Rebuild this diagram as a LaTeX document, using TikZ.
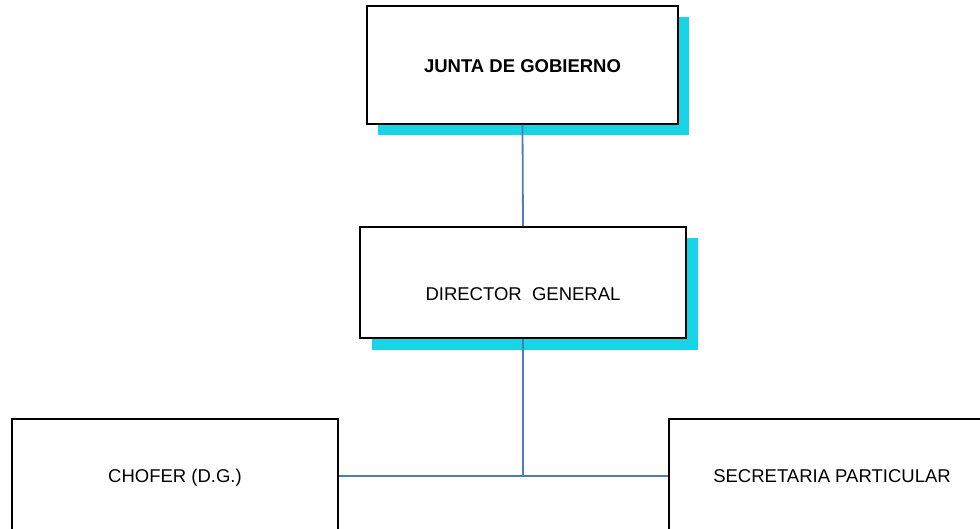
\documentclass[tikz,border=0pt]{standalone}
\usepackage{fontspec}
\setmainfont{Liberation Sans}
\usetikzlibrary{shadows}
\definecolor{shadecyan}{HTML}{17D4E6}
\definecolor{linkblue}{HTML}{4A7EBB}
\tikzset{
  unit/.style={draw=black, line width=1.5pt, fill=white, inner sep=0pt,
    text height=17pt, text depth=4pt,
    font=\fontsize{18.5}{22}\selectfont},
  shadowed/.style={drop shadow={shadow xshift=#1, shadow yshift=-11.5pt,
    fill=shadecyan, opacity=1}},
  link/.style={draw=linkblue, line width=1.8pt}
}

\begin{document}
\begin{tikzpicture}[x=1pt,y=-1pt]
		%%%%% START %%%%%
		\useasboundingbox (0,0) rectangle (980,529);
		\clip (0,0) rectangle (980,529);
		
		\node[unit, shadowed=11pt, minimum width=311pt, minimum height=118pt,
		  text height=15pt, text depth=0pt,
		  font=\fontsize{18.5}{22}\selectfont\bfseries] (junta) at (522.5,65) {JUNTA DE GOBIERNO};
		
		\node[unit, shadowed=11.5pt, minimum width=326pt, minimum height=111pt,
		  text height=36pt, text depth=0pt] (director) at (523,282.5) {DIRECTOR\ \ GENERAL};
		
		\node[unit, minimum width=326pt, minimum height=114pt] (chofer) at (175,476) {CHOFER (D.G.)};
		\node[unit, minimum width=326pt, minimum height=114pt] (secretaria) at (832,476) {SECRETARIA PARTICULAR};
		
		\coordinate (hub) at (director.south |- chofer.east);
		\draw[link] (junta.south) -- (director.north);
		\draw[link] (director.south) -- (hub);
		\draw[link] (chofer.east) -- (secretaria.west);
		%%%%% END %%%%%
\end{tikzpicture}
\end{document}
